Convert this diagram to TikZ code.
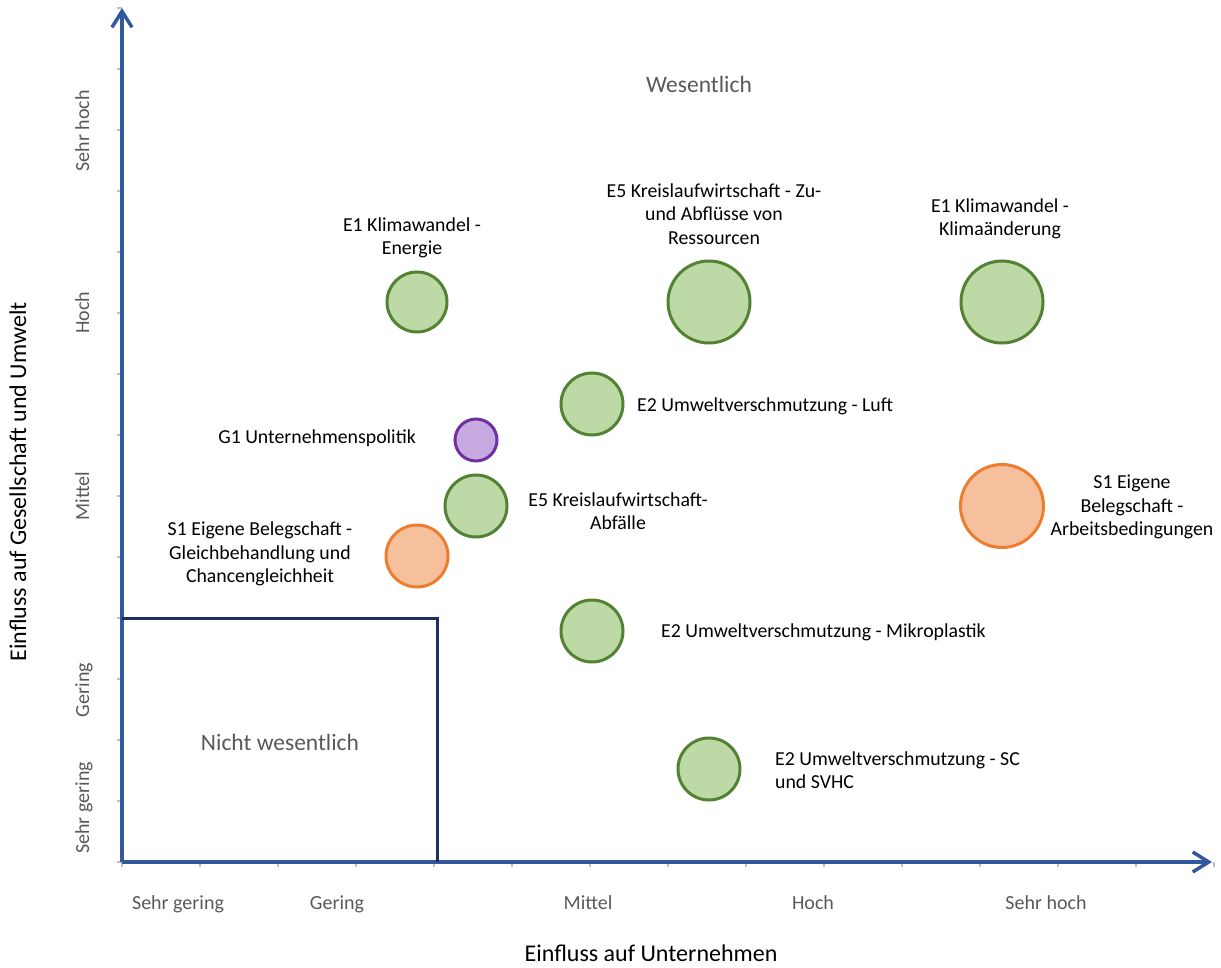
\documentclass[tikz,border=0pt]{standalone}
\usepackage{fontspec}
\setmainfont{Carlito}
\usetikzlibrary{arrows.meta}
\definecolor{axisblue}{HTML}{3258A0}
\definecolor{boxnavy}{HTML}{1F2F60}
\definecolor{tickgray}{HTML}{BFBFBF}
\definecolor{lblgray}{HTML}{595959}
\definecolor{grline}{HTML}{548235}
\definecolor{grfill}{HTML}{BDDAA6}
\definecolor{orline}{HTML}{ED7D31}
\definecolor{orfill}{HTML}{F5C09B}
\definecolor{puline}{HTML}{7030A0}
\definecolor{pufill}{HTML}{C9A9E1}

\begin{document}
\begin{tikzpicture}[x=1pt,y=-1pt,
  axis/.style={draw=axisblue,line width=3.5pt,-{Straight Barb[length=16pt,width=20pt]}},
  tickline/.style={draw=tickgray,line width=1.2pt},
  bubble/.style={circle,line width=3pt,inner sep=0pt},
  greenbub/.style={bubble,draw=grline,fill=grfill},
  orangebub/.style={bubble,draw=orline,fill=orfill},
  purplebub/.style={bubble,draw=puline,fill=pufill},
  lbl/.style={font=\fontsize{19.8}{23.5}\selectfont,align=center,inner sep=0pt},
  ticklbl/.style={font=\fontsize{20}{23}\selectfont,text=lblgray,inner sep=0pt,
    text height=10pt,text depth=4pt},
  zonelbl/.style={font=\fontsize{23.5}{28}\selectfont,text=lblgray,inner sep=0pt},
  axistitle/.style={font=\fontsize{24}{28}\selectfont,inner sep=0pt}]
\useasboundingbox (0,0) rectangle (1221,968);

% ticks
\foreach \i in {0,...,14} {
  \draw[tickline] (122+78*\i,862) -- ++(0,5);
  \draw[tickline] (122,862-61*\i) -- ++(-5,0);
}

% axes
\coordinate (O) at (122,862);
\coordinate (xend) at (1212,862);
\coordinate (yend) at (122,8);
\draw[axis] (O) -- (xend);
\draw[axis] (O) -- (yend);

% nicht wesentlich
\coordinate (boxtl) at (122,618);
\coordinate (boxbr) at (437,862);
\draw[boxnavy,line width=3pt] (boxtl) -| (boxbr);
\node[zonelbl] (nw) at (280,742) {Nicht wesentlich};
\node[zonelbl] (w) at (699,84) {Wesentlich};

% axis labels
\node[ticklbl] (x1) at (178,906) {Sehr gering};
\node[ticklbl] (x2) at (337,906) {Gering};
\node[ticklbl] (x3) at (588,906) {Mittel};
\node[ticklbl] (x4) at (813,906) {Hoch};
\node[ticklbl] (x5) at (1046,906) {Sehr hoch};
\node[ticklbl,rotate=90] (y1) at (86,808) {Sehr gering};
\node[ticklbl,rotate=90] (y2) at (86,690) {Gering};
\node[ticklbl,rotate=90] (y3) at (86,496) {Mittel};
\node[ticklbl,rotate=90] (y4) at (86,313) {Hoch};
\node[ticklbl,rotate=90] (y5) at (86,131) {Sehr hoch};
\node[axistitle] (xtitle) at (651,953) {Einfluss auf Unternehmen};
\node[axistitle,rotate=90] (ytitle) at (18,482) {Einfluss auf Gesellschaft und Umwelt};

% bubbles
\node[greenbub,minimum size=60pt] (e1en) at (417,302) {};
\node[greenbub,minimum size=82pt] (e5zu) at (709,302) {};
\node[greenbub,minimum size=82pt] (e1kl) at (1002,302) {};
\node[greenbub,minimum size=62pt] (e2lu) at (592,404) {};
\node[purplebub,minimum size=42pt] (g1) at (476,440) {};
\node[greenbub,minimum size=62pt] (e5ab) at (476,506) {};
\node[orangebub,minimum size=62pt] (s1gl) at (417,556) {};
\node[orangebub,minimum size=83pt] (s1ab) at (1002,506) {};
\node[greenbub,minimum size=62pt] (e2mi) at (592,631) {};
\node[greenbub,minimum size=62pt] (e2sc) at (709,769) {};

% labels
\node[lbl] (e1enl) at (412,238) {E1 Klimawandel -\\Energie};
\node[lbl] (e5zul) at (714,214) {E5 Kreislaufwirtschaft - Zu-\\und Abflüsse von\\Ressourcen};
\node[lbl] (e1kll) at (1000,219) {E1 Klimawandel -\\Klimaänderung};
\node[lbl,anchor=west] (e2lul) at (637,406) {E2 Umweltverschmutzung - Luft};
\node[lbl,anchor=east] (g1l) at (416,438) {G1 Unternehmenspolitik};
\node[lbl] (e5abl) at (618,511) {E5 Kreislaufwirtschaft-\\Abfälle};
\node[lbl] (s1gll) at (260,554) {S1 Eigene Belegschaft -\\Gleichbehandlung und\\Chancengleichheit};
\node[lbl] (s1abl) at (1132,507) {S1 Eigene\\Belegschaft -\\Arbeitsbedingungen};
\node[lbl,anchor=west] (e2mil) at (661,632) {E2 Umweltverschmutzung - Mikroplastik};
\node[lbl,anchor=west,align=left] (e2scl) at (775,770) {E2 Umweltverschmutzung - SC\\und SVHC};
\end{tikzpicture}
\end{document}
